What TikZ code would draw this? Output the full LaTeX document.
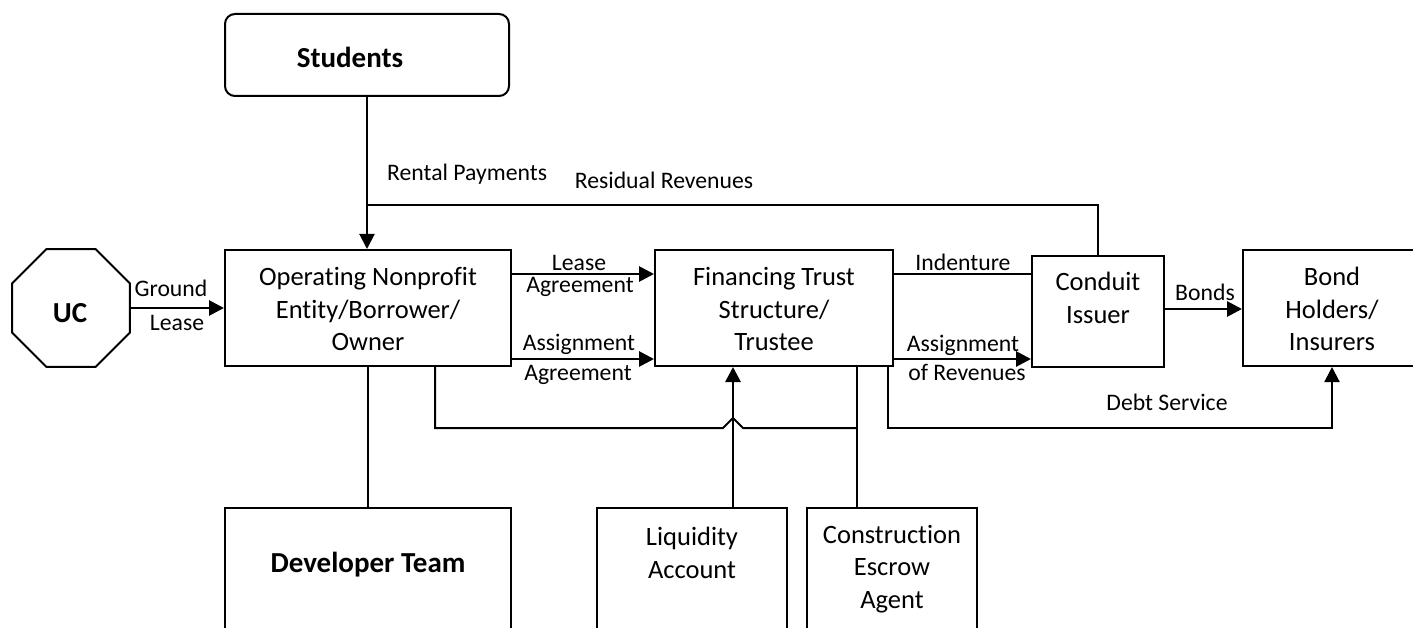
\documentclass[tikz,border=0pt]{standalone}
\usepackage{fontspec}
\setmainfont{Carlito}[Ligatures=NoCommon]
\usetikzlibrary{arrows.meta,shapes.geometric,calc}
\begin{document}
\begin{tikzpicture}[x=1pt,y=-1pt,
  box/.style={draw,line width=2pt,inner sep=0pt},
  txt/.style={font=\fontsize{26.5pt}{32.5pt}\selectfont,align=center,inner sep=0pt},
  btxt/.style={font=\fontsize{29pt}{35pt}\selectfont\bfseries,inner sep=0pt,text height=18pt,text depth=0pt},
  lbl/.style={font=\fontsize{23.7pt}{28pt}\selectfont,inner sep=0pt,text height=14.7pt,text depth=0pt},
  thinl/.style={line width=2pt},
  thickl/.style={line width=2.8pt},
  arr/.style={-{Triangle[length=15pt,width=15pt]}}
]
\useasboundingbox (0,0) rectangle (1413,628);
\clip (0,0) rectangle (1413,628);

% boxes
\node[box,rounded corners=10pt,minimum width=284pt,minimum height=82pt] (students) at (367,55) {};
\node[btxt] (studentsT) at (350,59) {Students};
\node[box,regular polygon,regular polygon sides=8,minimum size=127.7pt] (uc) at (71,308) {};
\node[btxt] (ucT) at (70,313) {UC};
\node[box,minimum width=286pt,minimum height=116pt] (operating) at (368,308) {};
\node[txt] (operatingT) at (368,309) {Operating Nonprofit\\Entity/Borrower/\\Owner};
\node[box,minimum width=238pt,minimum height=116pt] (financing) at (774,308) {};
\node[txt] (financingT) at (774,309) {Financing Trust\\Structure/\\Trustee};
\node[box,minimum width=132pt,minimum height=111pt] (conduit) at (1098,311.5) {};
\node[txt] (conduitT) at (1098,298) {Conduit\\Issuer};
\node[box,minimum width=178pt,minimum height=116pt] (bond) at (1332,308) {};
\node[txt] (bondT) at (1332,309) {Bond\\Holders/\\Insurers};
\node[box,minimum width=286pt,minimum height=152pt] (developer) at (368,584) {};
\node[btxt] (developerT) at (368,563) {Developer Team};
\node[box,minimum width=190pt,minimum height=152pt] (liquidity) at (692,584) {};
\node[txt] (liquidityT) at (692,553) {Liquidity\\Account};
\node[box,minimum width=170pt,minimum height=152pt] (construction) at (892,584) {};
\node[txt] (constructionT) at (892,569) {Construction\\Escrow\\Agent};

% coordinates
\coordinate (rj) at (367,205);
\coordinate (leaseA) at ($(operating.north east)+(0,25)$);
\coordinate (assignA) at ($(operating.south east)+(0,-8)$);
\coordinate (indA) at ($(financing.north east)+(0,25)$);
\coordinate (revA) at ($(financing.south east)+(0,-8)$);
\coordinate (bondsA) at ($(conduit.east)+(0,-2.5)$);
\coordinate (dsA) at ($(financing.south east)+(-6,0)$);
\coordinate (opB) at ($(operating.south)+(67,0)$);
\coordinate (liqA) at ($(liquidity.north)+(41,0)$);
\coordinate (finL) at ($(financing.south)+(-41,0)$);
\coordinate (finC) at ($(financing.south)+(83,0)$);
\coordinate (hopL) at ($(finL)+(-10,61)$);
\coordinate (hopT) at ($(finL)+(0,51)$);
\coordinate (hopR) at ($(finL)+(10,61)$);

% connectors
\draw[thinl,arr] (students.south) -- (students.south |- operating.north);
\draw[thinl] (conduit.north) |- (rj);
\draw[thickl,arr] (uc.east) -- (operating.west);
\draw[thickl,arr] (leaseA) -- (leaseA -| financing.west);
\draw[thickl,arr] (assignA) -- (assignA -| financing.west);
\draw[thinl] (indA) -- (indA -| conduit.west);
\draw[thickl,arr] (revA) -- (revA -| conduit.west);
\draw[thickl,arr] (bondsA) -- (bondsA -| bond.west);
\draw[thinl,arr] (dsA) -- ++(0,61) -| (bond.south);
\draw[thinl] (opB) |- (hopL) -- (hopT) -- (hopR) -- (hopR -| finC);
\draw[thinl] (finC) -- (finC |- construction.north);
\draw[thickl,arr] (liqA) -- (finL);
\draw[thinl] (operating.south) -- (operating.south |- developer.north);

% labels
\node[lbl,anchor=west] (rentalL) at (387,173) {Rental Payments};
\node[lbl] (residualL) at (664,181) {Residual Revenues};
\node[lbl] (groundL) at (171,289) {Ground};
\node[lbl] (groundL2) at (177,323) {Lease};
\node[lbl] (leaseL) at (579,263) {Lease};
\node[lbl] (leaseL2) at (580,285) {Agreement};
\node[lbl] (assignL) at (579,343) {Assignment};
\node[lbl] (assignL2) at (578,373) {Agreement};
\node[lbl] (indL) at (963,263) {Indenture};
\node[lbl] (revL) at (963,344) {Assignment};
\node[lbl] (revL2) at (967,373) {of Revenues};
\node[lbl] (bondsL) at (1205,293) {Bonds};
\node[lbl] (dsL) at (1167,403) {Debt Service};
\end{tikzpicture}
\end{document}
